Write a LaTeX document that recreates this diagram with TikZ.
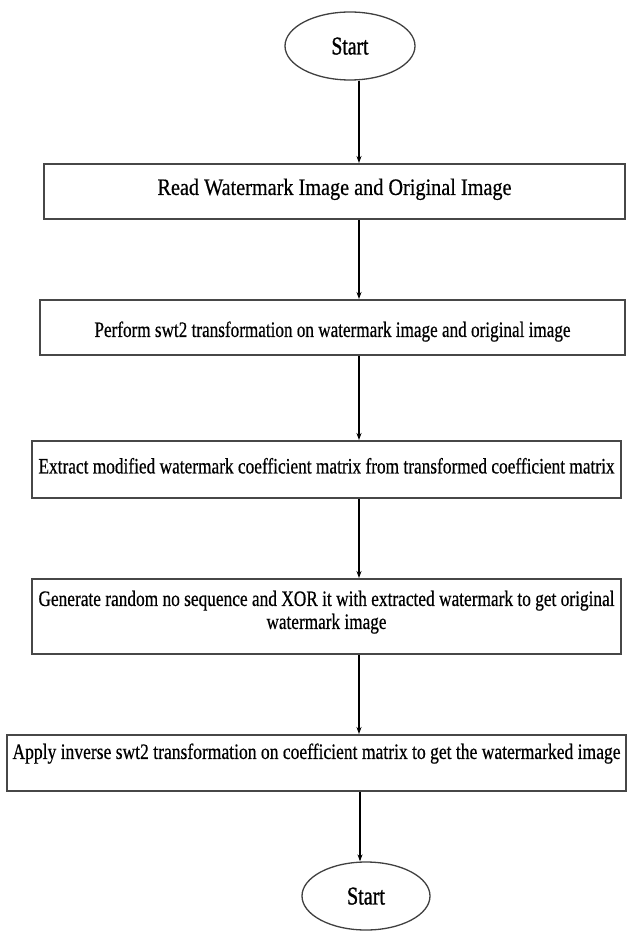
\documentclass[tikz,border=0pt]{standalone}
\usepackage{fontspec}
\setmainfont{Liberation Serif}
\newfontfamily\hvy{Liberation Serif}[FakeBold=0.6]
\newfontfamily\hvyst{Liberation Serif}[FakeBold=1.2]
\usetikzlibrary{arrows.meta,shapes.geometric}
\newcommand\sqz[2]{\resizebox{#1}{\height}{#2}}
\begin{document}
\begin{tikzpicture}[x=1pt,y=-1pt,
  boxnode/.style={draw=black!72, line width=1.9pt, rectangle, inner sep=0pt, anchor=north},
  ellnode/.style={draw=black!75, line width=1.3pt, ellipse, inner sep=0pt},
  arr/.style={line width=1.1pt, black, -{Stealth[length=7pt,width=5pt]}},
  bigtxt/.style={font=\hvy\fontsize{23.5}{27}\selectfont},
  smalltxt/.style={font=\hvy\fontsize{22}{23}\selectfont},
  sttxt/.style={font=\hvyst\fontsize{25.5}{30}\selectfont}]
\useasboundingbox (0,0) rectangle (627,933);
\fill[white] (0,0) rectangle (627,933);
\coordinate (ax) at (359,0);
\coordinate (bx) at (360,0);

\node[ellnode, sttxt, minimum width=130pt, minimum height=68pt, text depth=0pt] (start) at (350,46) {\sqz{37pt}{Start}};

\node[boxnode, bigtxt, minimum width=581pt, text height=31pt, text depth=24pt] (b1) at (334.5,163)
  {\sqz{354pt}{Read Watermark Image and Original Image}};

\node[boxnode, smalltxt, minimum width=585pt, text height=37pt, text depth=18pt] (b2) at (332.5,299)
  {\sqz{476pt}{Perform swt2 transformation on watermark image and original image}};

\node[boxnode, smalltxt, minimum width=589pt, text height=32.5pt, text depth=24.5pt] (b3) at (326.5,440)
  {\sqz{576pt}{Extract modified watermark coefficient matrix from transformed coefficient matrix}};

\node[boxnode, smalltxt, minimum width=589pt, text height=50pt, text depth=25pt] (b4) at (326.5,578)
  {\begin{tabular}[b]{@{}c@{}}\sqz{576pt}{Generate random no sequence and XOR it with extracted watermark to get original}\\
   \sqz{120pt}{watermark image}\end{tabular}};

\node[boxnode, smalltxt, minimum width=619pt, text height=24pt, text depth=32pt] (b5) at (316.5,734)
  {\sqz{608pt}{Apply inverse swt2 transformation on coefficient matrix to get the watermarked image}};

\node[ellnode, sttxt, minimum width=128pt, minimum height=68pt, text depth=0pt] (stop) at (366,896) {\sqz{38pt}{Start}};

\draw[arr] (start.south -| ax) -- (b1.north -| ax);
\draw[arr] (b1.south -| ax) -- (b2.north -| ax);
\draw[arr] (b2.south -| ax) -- (b3.north -| ax);
\draw[arr] (b3.south -| ax) -- (b4.north -| ax);
\draw[arr] (b4.south -| ax) -- (b5.north -| ax);
\draw[arr] (b5.south -| bx) -- (stop.north -| bx);
\end{tikzpicture}
\end{document}
